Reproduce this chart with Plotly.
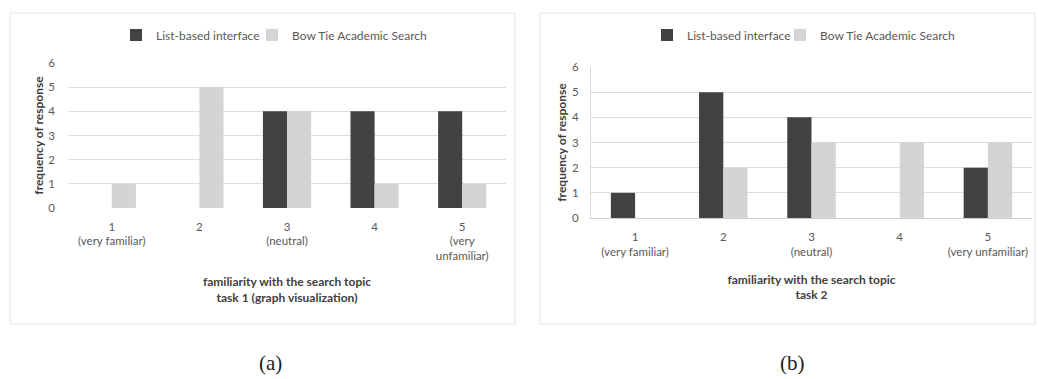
"""Familiarity with the search topic - two grouped bar panels, (a) task 1 and (b) task 2."""

import plotly.graph_objects as go

W, H = 1038, 379

levels = [1, 2, 3, 4, 5]
labels_a = ["1<br>(very familiar)", "2", "3<br>(neutral)", "4", "5<br>(very<br>unfamiliar)"]
labels_b = ["1<br>(very familiar)", "2", "3<br>(neutral)", "4", "5<br>(very unfamiliar)"]
y_ticks = [0, 1, 2, 3, 4, 5, 6]

list_a = [0, 0, 4, 4, 4]
bowtie_a = [1, 5, 4, 1, 1]
list_b = [1, 5, 4, 0, 2]
bowtie_b = [0, 2, 3, 3, 3]

series_names = ["List-based interface", "Bow Tie Academic Search"]
x_titles = [
    "familiarity with the search topic<br>task 1 (graph visualization)",
    "familiarity with the search topic<br>task 2",
]
y_title = "frequency of response"

DARK = "#424242"
LIGHT = "#d4d4d4"
TEXT = "#595959"
GRID = "#dcdcdc"
FONT = "Lato, Open Sans, sans-serif"


def px_x(v):
    return v / W


def px_y(v):
    return 1 - v / H


fig = go.Figure()

# one legend per entry so each legend key sits where the reference has it
panels = [
    ("x", "y", ("legend", "legend2"), list_a, bowtie_a),
    ("x2", "y2", ("legend3", "legend4"), list_b, bowtie_b),
]
for xa, ya, legs, list_vals, bow_vals in panels:
    fig.add_trace(go.Bar(x=levels, y=list_vals, name=series_names[0], marker_color=DARK,
                         marker_line_width=0, xaxis=xa, yaxis=ya, legend=legs[0],
                         showlegend=True))
    fig.add_trace(go.Bar(x=levels, y=bow_vals, name=series_names[1], marker_color=LIGHT,
                         marker_line_width=0, xaxis=xa, yaxis=ya, legend=legs[1],
                         showlegend=True))

tick_font = dict(family=FONT, size=11.5, color=TEXT)
title_font = dict(family=FONT, size=12, color="#404040", weight="bold")
legend_font = dict(family=FONT, size=12, color=TEXT)

common_x = dict(range=[0.5, 5.5], tickmode="array", tickvals=levels, showgrid=False,
                zeroline=False, ticks="", tickfont=tick_font,
                automargin=False, fixedrange=True)
common_y = dict(range=[0, 6], tickmode="array", tickvals=y_ticks, showgrid=True,
                gridcolor=GRID, gridwidth=1, zeroline=False, ticks="", tickfont=tick_font,
                automargin=False)
common_legend = dict(orientation="h", xanchor="left", yanchor="middle", font=legend_font,
                     bgcolor="rgba(0,0,0,0)", itemclick=False, y=px_y(35))

fig.update_layout(
    width=W,
    height=H,
    margin=dict(l=0, r=0, t=0, b=0),
    paper_bgcolor="white",
    plot_bgcolor="white",
    showlegend=True,
    barmode="group",
    bargap=0.45,
    bargroupgap=0,
    font=dict(family=FONT, size=11, color=TEXT),
    xaxis=dict(common_x, domain=[px_x(68), px_x(506)], anchor="y", ticktext=labels_a,
               showline=False, ticklabelstandoff=10,
               title=dict(text=x_titles[0], font=title_font, standoff=16)),
    yaxis=dict(common_y, domain=[px_y(208), px_y(63)], anchor="x", showline=False,
               ticklabelstandoff=12,
               title=dict(text=y_title, font=title_font, standoff=2)),
    xaxis2=dict(common_x, domain=[px_x(591), px_x(1032)], anchor="y2", ticktext=labels_b,
                showline=True, linecolor="#cfcfcf", linewidth=1, ticklabelstandoff=8,
                title=dict(text=x_titles[1], font=title_font, standoff=18)),
    yaxis2=dict(common_y, domain=[px_y(218), px_y(67)], anchor="x2", showline=True,
                linecolor="#d8d8d8", linewidth=1,
                ticklabelstandoff=9,
                title=dict(text=y_title, font=title_font, standoff=2)),
    legend=dict(common_legend, x=px_x(116)),
    legend2=dict(common_legend, x=px_x(252)),
    legend3=dict(common_legend, x=px_x(647)),
    legend4=dict(common_legend, x=px_x(780)),
)

# faint chart frames around each panel
for x0, x1 in [(10, 515), (540, 1035)]:
    fig.add_shape(type="rect", xref="paper", yref="paper",
                  x0=px_x(x0), x1=px_x(x1), y0=px_y(324), y1=px_y(13),
                  line=dict(color="#e4e4e4", width=1), fillcolor="rgba(0,0,0,0)", layer="below")

# panel captions
for cx, cap in [(270, "(a)"), (792, "(b)")]:
    fig.add_annotation(text=cap, xref="paper", yref="paper", x=px_x(cx), y=px_y(363),
                       xanchor="center", yanchor="middle", showarrow=False,
                       font=dict(family="Liberation Serif, DejaVu Serif, serif", size=21,
                                 color="#222222"))

# the page body has an 8px default margin; drop it so the figure fills the window
fig.write_html("out.html", config={"displayModeBar": False},
               post_script="document.body.style.margin = '0';")
